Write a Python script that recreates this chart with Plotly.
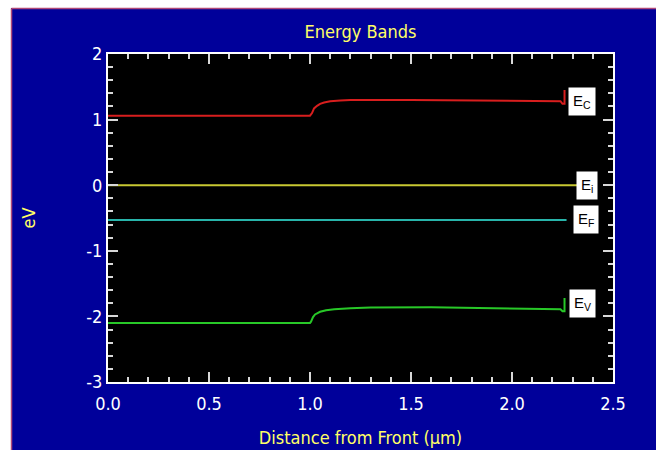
import plotly.graph_objects as go

# Band-edge profiles (eV) vs. distance from the front surface (um)
x_ec = [0.0, 1.0, 1.01, 1.02, 1.035, 1.05, 1.07, 1.1, 1.15, 1.2, 1.5, 2.0, 2.24, 2.25, 2.26, 2.26]
ec = [1.06, 1.06, 1.10, 1.17, 1.21, 1.24, 1.26, 1.28, 1.29, 1.30, 1.30, 1.29, 1.28, 1.24, 1.24, 1.45]

x_ei = [0.0, 2.34]
ei = [0.0, 0.0]

x_ef = [0.0, 2.27]
ef = [-0.53, -0.53]

x_ev = [0.0, 1.0, 1.005, 1.015, 1.025, 1.05, 1.08, 1.12, 1.2, 1.3, 1.6, 2.0, 2.24, 2.25, 2.26, 2.26]
ev = [-2.10, -2.10, -2.08, -2.01, -1.97, -1.93, -1.905, -1.89, -1.875, -1.865, -1.86, -1.88, -1.89, -1.92, -1.92, -1.72]

# Band labels: text, x, y
band_labels = ["E<sub>C</sub>", "E<sub>i</sub>", "E<sub>F</sub>", "E<sub>V</sub>"]
label_x = [2.345, 2.37, 2.365, 2.35]
label_y = [1.28, 0.0, -0.53, -1.80]

x_ticks = [0.0, 0.5, 1.0, 1.5, 2.0, 2.5]
x_ticktext = ["0.0", "0.5", "1.0", "1.5", "2.0", "2.5"]
y_ticks = [-3, -2, -1, 0, 1, 2]
y_ticktext = ["-3", "-2", "-1", "0", "1", "2"]

NARROW = "DejaVu Sans Condensed, Liberation Sans, sans-serif"
YELLOW = "#ffff66"
BLUE = "#00009a"

fig = go.Figure()
fig.add_trace(go.Scatter(x=x_ec, y=ec, mode="lines", line=dict(color="#d81e1e", width=2)))
fig.add_trace(go.Scatter(x=x_ei, y=ei, mode="lines", line=dict(color="#c8c832", width=2)))
fig.add_trace(go.Scatter(x=x_ef, y=ef, mode="lines", line=dict(color="#28b4aa", width=2)))
fig.add_trace(go.Scatter(x=x_ev, y=ev, mode="lines", line=dict(color="#28c828", width=2)))

for txt, lx, ly in zip(band_labels, label_x, label_y):
    fig.add_annotation(x=lx, y=ly, text=txt, showarrow=False,
                       bgcolor="white", borderpad=4,
                       font=dict(family="Liberation Sans, Arial, sans-serif", size=15, color="black"))

axis_common = dict(
    showline=True, linecolor="white", linewidth=2, mirror="allticks",
    ticks="inside", ticklen=10, tickwidth=1.5, tickcolor="#d8d8d8",
    showgrid=False, zeroline=False, automargin=False,
    tickfont=dict(family=NARROW, size=18, color="white"),
    title_font=dict(family=NARROW, size=18, color=YELLOW),
)

fig.update_xaxes(
    range=[0, 2.5], tickvals=x_ticks, ticktext=x_ticktext,
    minor=dict(dtick=0.1, ticks="inside", ticklen=5, tickcolor="#d8d8d8", tickwidth=1.5),
    title_text="Distance from Front (µm)", title_standoff=19, ticklabelstandoff=4,
    **axis_common,
)
fig.update_yaxes(
    range=[-3, 2], tickvals=y_ticks, ticktext=y_ticktext,
    minor=dict(dtick=0.2, ticks="inside", ticklen=5, tickcolor="#d8d8d8", tickwidth=1.5),
    title_text="eV", title_standoff=46, ticklabelstandoff=0,
    **axis_common,
)

L, R, T, B = 108, 43, 54, 68
W, H = 656, 450
pw, ph = W - L - R, H - T - B


def px_x(p):
    return (p - L) / pw


def px_y(p):
    return (H - B - p) / ph


# white strips along the top and left edge, with a thin border line
fig.add_shape(type="rect", xref="paper", yref="paper", layer="below",
              x0=px_x(0), x1=px_x(W), y0=px_y(8), y1=px_y(0),
              fillcolor="white", line_width=0)
fig.add_shape(type="rect", xref="paper", yref="paper", layer="below",
              x0=px_x(0), x1=px_x(11), y0=px_y(H), y1=px_y(0),
              fillcolor="white", line_width=0)
fig.add_shape(type="line", xref="paper", yref="paper",
              x0=px_x(11.5), x1=px_x(W), y0=px_y(8.5), y1=px_y(8.5),
              line=dict(color="#b04878", width=1.5))
fig.add_shape(type="line", xref="paper", yref="paper",
              x0=px_x(11.5), x1=px_x(11.5), y0=px_y(8.5), y1=px_y(H),
              line=dict(color="#b04878", width=1.5))

fig.update_layout(
    width=W, height=H,
    margin=dict(l=L, r=R, t=T, b=B),
    paper_bgcolor=BLUE, plot_bgcolor="black",
    showlegend=False,
    title=dict(text="Energy Bands", x=0.5, xref="paper", y=1 - 32 / H, yref="container",
               xanchor="center", yanchor="middle",
               font=dict(family=NARROW, size=18, color=YELLOW)),
)

fig.write_html("out.html")
